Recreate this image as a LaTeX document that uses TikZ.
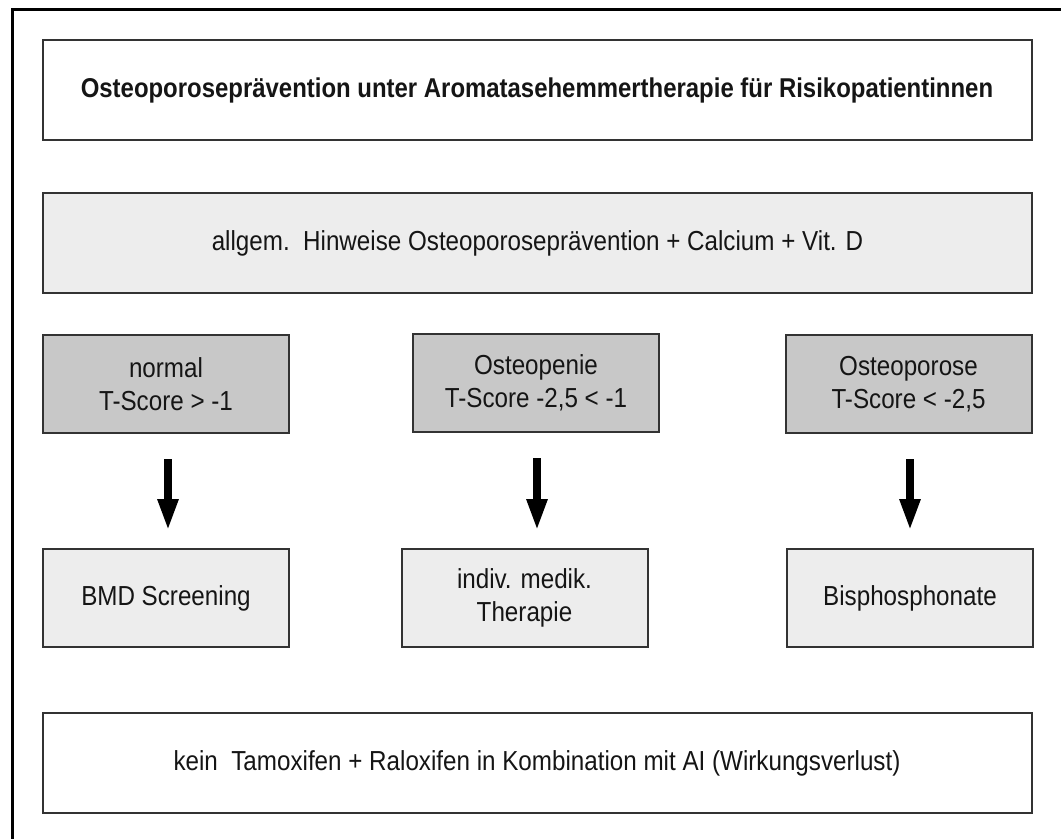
\documentclass[tikz,border=0pt]{standalone}
\usepackage{fontspec}
\setmainfont{Liberation Sans}[FakeStretch=0.88]
\usetikzlibrary{arrows.meta}
\definecolor{boxline}{HTML}{333333}
\definecolor{lightfill}{HTML}{EDEDED}
\definecolor{midfill}{HTML}{C8C8C8}
\definecolor{txt}{HTML}{151515}
\begin{document}
\begin{tikzpicture}[x=1pt,y=-1pt,
  box/.style={draw=boxline, line width=2pt, rectangle, align=center, text=txt,
    font=\fontsize{27.5}{33}\selectfont, inner sep=0pt},
  widebox/.style={box, minimum width=989pt, minimum height=100pt},
  smallbox/.style={box, minimum width=246pt, minimum height=98pt},
  arr/.style={line width=8pt, -{Triangle[width=19pt,length=32pt]}, shorten <=25pt, shorten >=17pt}
]
\useasboundingbox (0,0) rectangle (1061,839);
\fill[white] (0,0) rectangle (1061,839);
% outer frame (top and left only)
\coordinate (ftl) at (12,9);
\coordinate (ftr) at (1061,9);
\coordinate (fbl) at (12,839);
\draw[line width=3pt, black] (ftr) -- (ftl) -- (fbl);

\node[widebox, fill=white, font=\fontsize{27.2}{33}\selectfont\bfseries] (title) at (537,90)
  {Osteoporosepr\"avention unter Aromatasehemmertherapie f\"ur Risikopatientinnen};
\node[widebox, fill=lightfill] (allg) at (537.5,243)
  {allgem.\ \ Hinweise Osteoporosepr\"avention + Calcium + Vit. D};

\node[smallbox, fill=midfill] (norm) at (166,384) {normal\\T-Score > -1};
\node[smallbox, fill=midfill] (open) at (536,383) {Osteopenie\\T-Score -2,5 < -1};
\node[smallbox, fill=midfill] (opor) at (908.5,384) {Osteoporose\\T-Score < -2,5};

\node[smallbox, fill=lightfill] (bmd) at (166,598) {BMD Screening};
\node[smallbox, fill=lightfill] (indiv) at (524.5,598) {indiv. medik.\\Therapie};
\node[smallbox, fill=lightfill] (bis) at (910,598) {Bisphosphonate};

\node[widebox, fill=white] (kein) at (537,763)
  {kein\ \ Tamoxifen + Raloxifen in Kombination mit AI (Wirkungsverlust)};

\draw[arr] ([xshift=2pt]norm.south) -- ([xshift=2pt]norm.south |- bmd.north);
\draw[arr] ([xshift=1pt]open.south) -- ([xshift=1pt]open.south |- indiv.north);
\draw[arr] ([xshift=1.5pt]opor.south) -- ([xshift=1.5pt]opor.south |- bis.north);
\end{tikzpicture}
\end{document}
